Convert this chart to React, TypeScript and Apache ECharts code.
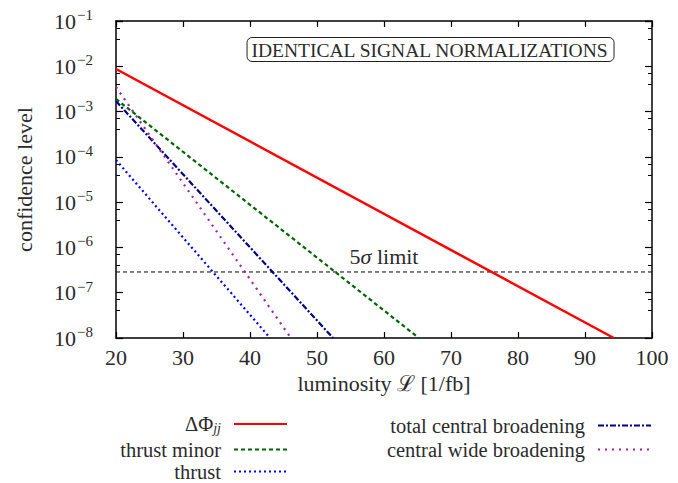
import React, { useEffect, useRef } from "react";
import * as echarts from "echarts";

const xRange = [20, 100];
const yRange = [1e-8, 1e-1];
const xTicks = [20, 30, 40, 50, 60, 70, 80, 90, 100];

const seriesNames = [
  "ΔΦjj",
  "thrust minor",
  "thrust",
  "total central broadening",
  "central wide broadening",
];
const deltaPhi = [[20, 8.7e-3], [94.3, 1e-8]];
const thrustMinor = [[20, 1.9e-3], [65.2, 1e-8]];
const thrust = [[20, 8.5e-5], [43.0, 1e-8]];
const totalCentral = [[20, 1.7e-3], [52.4, 1e-8]];
const centralWide = [[20, 3.5e-3], [46.1, 1e-8]];
const fiveSigma = 2.87e-7;
const fiveSigmaLine = [[20, fiveSigma], [100, fiveSigma]];
const fiveSigmaLabelAt = [60, fiveSigma];

const FONT = "Liberation Serif";
const FS = 22;
const LFS = 20.5;
const TXT = "#2b2b2b";

export default function App() {
  const ref = useRef<HTMLDivElement>(null);
  useEffect(() => {
    if (!ref.current) return;
    const chart = echarts.init(ref.current, undefined, { renderer: "svg" });
    const sup = ["", "−1", "−2", "−3", "−4", "−5", "−6", "−7", "−8"];
    const mkLegend = (name: string, right: number, top: number) => ({
      data: [name],
      orient: "horizontal",
      right,
      top,
      padding: 0,
      align: "right",
      itemWidth: 53,
      itemHeight: 14,
      selectedMode: false,
      itemStyle: { opacity: 0 },
      formatter: (n: string) => (n === "ΔΦjj" ? "{a|ΔΦ}{s|jj}" : n),
      textStyle: {
        fontFamily: FONT,
        fontSize: LFS,
        lineHeight: 20,
        color: TXT,
        padding: [0, 8, 0, 0],
        rich: {
          a: { fontFamily: FONT, fontSize: LFS, color: TXT, lineHeight: 20 },
          s: { fontFamily: FONT, fontSize: 14, fontStyle: "italic", color: TXT, lineHeight: 20, padding: [8, 0, 0, 0] },
        },
      },
    });
    const lineSeries = (name: string, data: number[][], color: string, width: number, type: any, extra: any = {}) => ({
      name,
      type: "line",
      data,
      symbol: "none",
      showSymbol: false,
      lineStyle: { color, width, type },
      itemStyle: { color },
      ...extra,
    });
    const option: any = {
      animation: false,
      title: {
        text: "IDENTICAL SIGNAL NORMALIZATIONS",
        right: 64,
        top: 37,
        padding: [3, 5, 2, 5],
        borderColor: "#222",
        borderWidth: 1,
        borderRadius: 5,
        textStyle: { fontFamily: FONT, fontSize: 19.5, fontWeight: "normal", color: TXT },
      },
      legend: [
        mkLegend(seriesNames[0], 390, 413),
        mkLegend(seriesNames[1], 390, 439),
        mkLegend(seriesNames[2], 390, 461),
        mkLegend(seriesNames[3], 26, 415),
        mkLegend(seriesNames[4], 26, 439),
      ],
      grid: { left: 116, right: 26, top: 21, bottom: 145 },
      xAxis: [
        {
          type: "value",
          min: xRange[0],
          max: xRange[1],
          interval: 10,
          name: "luminosity ℒ [1/fb]",
          nameLocation: "middle",
          nameGap: 34,
          nameTextStyle: { fontFamily: FONT, fontSize: FS, color: TXT },
          axisLine: { lineStyle: { color: "#000", width: 1.5 } },
          axisTick: { inside: true, length: 6, lineStyle: { color: "#000", width: 1.2 } },
          axisLabel: { fontFamily: FONT, fontSize: FS, color: TXT, margin: 8, formatter: (v: number) => (xTicks.includes(v) ? String(v) : "") },
          splitLine: { show: false },
        },
        {
          type: "value",
          position: "top",
          min: xRange[0],
          max: xRange[1],
          interval: 10,
          axisLine: { lineStyle: { color: "#000", width: 1.5 } },
          axisTick: { inside: true, length: 6, lineStyle: { color: "#000", width: 1.2 } },
          axisLabel: { show: false },
          splitLine: { show: false },
        },
      ],
      yAxis: [
        {
          type: "log",
          logBase: 10,
          min: yRange[0],
          max: yRange[1],
          name: "confidence level",
          nameLocation: "middle",
          nameGap: 81,
          nameTextStyle: { fontFamily: FONT, fontSize: FS, color: TXT },
          axisLine: { lineStyle: { color: "#000", width: 1.5 } },
          axisTick: { inside: true, length: 7, lineStyle: { color: "#000", width: 1.2 } },
          minorTick: { show: true, splitNumber: 3, length: 4, lineStyle: { color: "#000", width: 1 } },
          axisLabel: {
            fontFamily: FONT,
            fontSize: FS,
            color: TXT,
            margin: 23,
            formatter: (v: number) => {
              const e = Math.round(-Math.log10(v));
              return "10{s|" + sup[e] + "}";
            },
            rich: { s: { fontFamily: FONT, fontSize: 15, color: TXT, padding: [0, 0, 12, 1] } },
          },
          splitLine: { show: false },
        },
        {
          type: "log",
          logBase: 10,
          min: yRange[0],
          max: yRange[1],
          position: "right",
          axisLine: { lineStyle: { color: "#000", width: 1.5 } },
          axisTick: { inside: true, length: 7, lineStyle: { color: "#000", width: 1.2 } },
          minorTick: { show: true, splitNumber: 3, length: 4, lineStyle: { color: "#000", width: 1 } },
          axisLabel: { show: false },
          splitLine: { show: false },
        },
      ],
      series: [
        {
          name: "5σ limit",
          type: "line",
          data: fiveSigmaLine,
          symbol: "none",
          silent: true,
          lineStyle: { color: "#000", width: 1, type: [4, 3] },
          markPoint: {
            symbol: "circle",
            symbolSize: 0,
            silent: true,
            data: [{ coord: fiveSigmaLabelAt }],
            label: {
              show: true,
              position: "top",
              distance: 4,
              formatter: "5{i|σ} limit",
              fontFamily: FONT,
              fontSize: FS,
              color: TXT,
              rich: { i: { fontFamily: FONT, fontSize: FS, fontStyle: "italic", color: TXT } },
            },
          },
        },
        lineSeries(seriesNames[0], deltaPhi, "#ff0000", 2.5, "solid", { z: 5 }),
        lineSeries(seriesNames[1], thrustMinor, "#006400", 2.2, [4, 3]),
        lineSeries(seriesNames[2], thrust, "#0000ff", 2.2, [2, 3]),
        lineSeries(seriesNames[3], totalCentral, "#00008b", 2.2, [6, 2, 2, 2]),
        lineSeries(seriesNames[4], centralWide, "#a0209f", 2.2, [2, 5]),
      ],
    };
    chart.setOption(option);
    return () => chart.dispose();
  }, []);
  return <div ref={ref} style={{ position: "absolute", left: 0, top: 0, width: 678, height: 483 }} />;
}
